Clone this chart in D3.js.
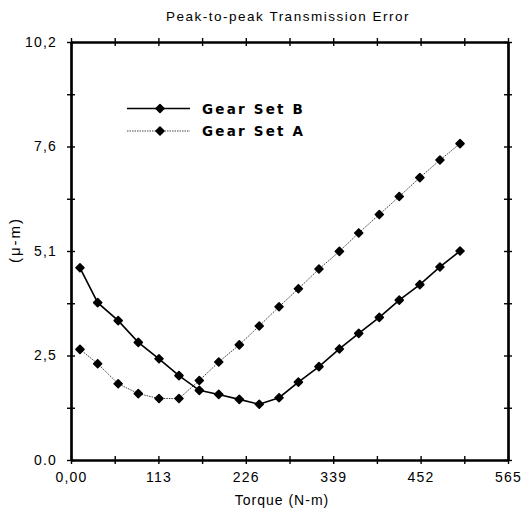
<!DOCTYPE html>
<html>
<head>
<meta charset="utf-8">
<script src="https://cdn.jsdelivr.net/npm/d3@7"></script>
<style>
  body { margin: 0; background: #fff; }
  svg { display: block; }
  text { font-family: "Liberation Sans", Arial, sans-serif; fill: #000; }
</style>
</head>
<body>
<svg id="chart"></svg>
<script>
const width = 528;
const height = 510;

// torque (N-m) at each measured point
const torque = [11.6, 34.5, 61, 87, 113.8, 139.6, 165.9, 191, 217.6, 243.4,
  269, 294, 320.6, 347, 372, 398.6, 424.4, 451, 477, 503];
// peak-to-peak transmission error (micro-m)
const gearSetB = [4.69, 3.84, 3.40, 2.87, 2.47, 2.06, 1.70, 1.60, 1.48, 1.36,
  1.52, 1.90, 2.28, 2.71, 3.09, 3.48, 3.90, 4.28, 4.71, 5.10];
const gearSetA = [2.70, 2.35, 1.86, 1.62, 1.50, 1.50, 1.94, 2.39, 2.81, 3.27,
  3.74, 4.18, 4.66, 5.09, 5.54, 5.99, 6.43, 6.89, 7.32, 7.72];

const xTicks = [0, 56.5, 113, 169.5, 226, 282.5, 339, 395.5, 452, 508.5, 565];
const xLabels = { 0: '0,00', 113: '113', 226: '226', 339: '339', 452: '452', 565: '565' };
const yTicks = [0, 1.275, 2.55, 3.825, 5.1, 6.375, 7.65, 8.925, 10.2];
const yLabels = { 0: '0.0', 2.55: '2,5', 5.1: '5,1', 7.65: '7,6', 10.2: '10,2' };

const seriesNames = ['Gear Set B', 'Gear Set A'];

const margin = { top: 42, right: 20, bottom: 50, left: 71 };
const svg = d3.select('#chart')
  .attr('width', width)
  .attr('height', height);

const x = d3.scaleLinear().domain([0, 565]).range([margin.left, width - margin.right]);
const y = d3.scaleLinear().domain([0, 10.2]).range([height - margin.bottom, margin.top]);

// frame: axes on all four sides, ticks cross the line
function styleAxis(g) {
  g.select('.domain').attr('stroke', '#000').attr('stroke-width', 2.2);
  g.selectAll('.tick line').attr('stroke', '#000').attr('stroke-width', 1.4);
}

const y0 = y(0), y1 = y(10.2), x0 = x(0), x1 = x(565);

// bottom
svg.append('g').attr('transform', `translate(0,${y0})`)
  .call(d3.axisBottom(x).tickValues(xTicks).tickSize(4).tickSizeOuter(0)
    .tickFormat(d => xLabels[d] || ''))
  .call(styleAxis)
  .call(g => g.selectAll('text')
    .attr('font-size', 14).attr('letter-spacing', 1.2).attr('y', 12)
    .attr('font-family', '"Liberation Sans", Arial, sans-serif'));
svg.append('g').attr('transform', `translate(0,${y0})`)
  .call(d3.axisTop(x).tickValues(xTicks).tickSize(4).tickSizeOuter(0).tickFormat(''))
  .call(styleAxis);
// top
svg.append('g').attr('transform', `translate(0,${y1})`)
  .call(d3.axisTop(x).tickValues(xTicks).tickSize(4).tickSizeOuter(0).tickFormat(''))
  .call(styleAxis);
svg.append('g').attr('transform', `translate(0,${y1})`)
  .call(d3.axisBottom(x).tickValues(xTicks).tickSize(4).tickSizeOuter(0).tickFormat(''))
  .call(styleAxis);
// left
svg.append('g').attr('transform', `translate(${x0},0)`)
  .call(d3.axisLeft(y).tickValues(yTicks).tickSize(4).tickSizeOuter(0)
    .tickFormat(d => yLabels[d] || ''))
  .call(styleAxis)
  .call(g => g.selectAll('text')
    .attr('font-size', 14).attr('letter-spacing', 1.2).attr('x', -14)
    .attr('font-family', '"Liberation Sans", Arial, sans-serif'));
svg.append('g').attr('transform', `translate(${x0},0)`)
  .call(d3.axisRight(y).tickValues(yTicks).tickSize(4).tickSizeOuter(0).tickFormat(''))
  .call(styleAxis);
// right
svg.append('g').attr('transform', `translate(${x1},0)`)
  .call(d3.axisRight(y).tickValues(yTicks).tickSize(4).tickSizeOuter(0).tickFormat(''))
  .call(styleAxis);
svg.append('g').attr('transform', `translate(${x1},0)`)
  .call(d3.axisLeft(y).tickValues(yTicks).tickSize(4).tickSizeOuter(0).tickFormat(''))
  .call(styleAxis);

// series
const line = d3.line().x(d => x(d[0])).y(d => y(d[1]));
// square turned 45 degrees, with a round stroke so it looks like the blobby diamonds
const marker = d3.symbol().type(d3.symbolSquare).size(32);

const dataA = torque.map((t, i) => [t, gearSetA[i]]);
const dataB = torque.map((t, i) => [t, gearSetB[i]]);

svg.append('path')
  .datum(dataA)
  .attr('fill', 'none')
  .attr('stroke', '#444')
  .attr('stroke-width', 1)
  .attr('stroke-dasharray', '1.5,1')
  .attr('d', line);
svg.append('path')
  .datum(dataB)
  .attr('fill', 'none')
  .attr('stroke', '#000')
  .attr('stroke-width', 1.6)
  .attr('d', line);

[dataA, dataB].forEach(data => {
  svg.append('g').selectAll('path')
    .data(data)
    .enter()
    .append('path')
    .attr('transform', d => `translate(${x(d[0])},${y(d[1])}) rotate(45)`)
    .attr('d', marker)
    .attr('fill', '#000')
    .attr('stroke', '#000')
    .attr('stroke-width', 1.6)
    .attr('stroke-linejoin', 'round');
});

// legend
const legend = svg.append('g').attr('transform', 'translate(127,108.5)');
seriesNames.forEach((name, i) => {
  const row = legend.append('g').attr('transform', `translate(0,${i * 22.5})`);
  row.append('line')
    .attr('x1', 0).attr('x2', 63)
    .attr('stroke', i === 0 ? '#000' : '#444')
    .attr('stroke-width', i === 0 ? 1.6 : 1)
    .attr('stroke-dasharray', i === 0 ? null : '1.5,1');
  row.append('path')
    .attr('transform', 'translate(33,0) rotate(45)')
    .attr('d', marker)
    .attr('fill', '#000')
    .attr('stroke', '#000')
    .attr('stroke-width', 1.6)
    .attr('stroke-linejoin', 'round');
  row.append('text')
    .attr('x', 75)
    .attr('y', 5)
    .attr('font-size', 13.5)
    .attr('font-weight', 'bold')
    .attr('letter-spacing', 2.2)
    .style('font-family', '"DejaVu Sans", sans-serif')
    .text(name);
});

// title and axis titles
svg.append('text')
  .attr('x', 288)
  .attr('y', 21)
  .attr('text-anchor', 'middle')
  .attr('font-size', 13.5)
  .attr('letter-spacing', 1.5)
  .text('Peak-to-peak Transmission Error');

svg.append('text')
  .attr('x', 282)
  .attr('y', 505)
  .attr('text-anchor', 'middle')
  .attr('font-size', 14)
  .attr('letter-spacing', 1)
  .text('Torque (N-m)');

svg.append('text')
  .attr('transform', 'translate(20,240) rotate(-90)')
  .attr('text-anchor', 'middle')
  .attr('font-size', 15)
  .attr('letter-spacing', 2)
  .text('(\u03bc-m)');
</script>
</body>
</html>
